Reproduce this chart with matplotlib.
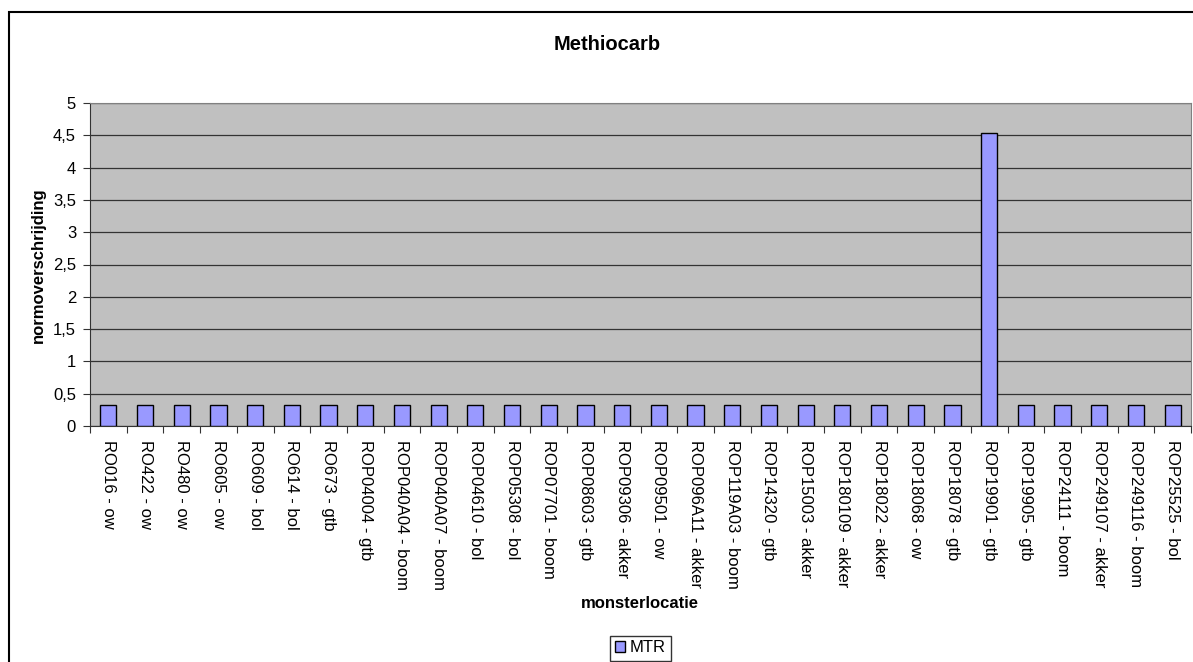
import matplotlib
matplotlib.use("Agg")
import matplotlib.pyplot as plt
from matplotlib.patches import Rectangle
import numpy as np

plt.rcParams['font.family'] = ['Liberation Sans', 'DejaVu Sans']

locations = [
    "RO016 - ow", "RO422 - ow", "RO480 - ow", "RO605 - ow", "RO609 - bol",
    "RO614 - bol", "RO673 - gtb", "ROP04004 - gtb", "ROP040A04 - boom",
    "ROP040A07 - boom", "ROP04610 - bol", "ROP05308 - bol", "ROP07701 - boom",
    "ROP08603 - gtb", "ROP09306 - akker", "ROP09501 - ow", "ROP096A11 - akker",
    "ROP119A03 - boom", "ROP14320 - gtb", "ROP15003 - akker",
    "ROP180109 - akker", "ROP18022 - akker", "ROP18068 - ow", "ROP18078 - gtb",
    "ROP19901 - gtb", "ROP19905 - gtb", "ROP24111 - boom", "ROP249107 - akker",
    "ROP249116 - boom", "ROP25525 - bol",
]
mtr = [0.32] * 24 + [4.53] + [0.32] * 5
y_ticks = [0, 0.5, 1, 1.5, 2, 2.5, 3, 3.5, 4, 4.5, 5]
y_tick_labels = ["0", "0,5", "1", "1,5", "2", "2,5", "3", "3,5", "4", "4,5", "5"]

W, H = 1193, 662
fig = plt.figure(figsize=(W / 100, H / 100), dpi=100)

# chart frame
fig.patches.append(Rectangle((9 / W, -0.1), 1.2, 1 - 12 / H + 0.1,
                             transform=fig.transFigure, fill=False,
                             edgecolor='black', linewidth=1.5, zorder=0))

left, right, top, bottom = 90, 1191, 103, 426
ax = fig.add_axes([left / W, 1 - bottom / H, (right - left) / W, (bottom - top) / H])
ax.set_facecolor('#C0C0C0')

x = np.arange(len(locations))
ax.bar(x, mtr, width=0.44, color='#9999FF', edgecolor='black', linewidth=1,
       zorder=3, label='MTR')

ax.set_xlim(-0.5, len(locations) - 0.5)
ax.set_ylim(0, 5)
ax.set_yticks(y_ticks)
ax.set_yticklabels(y_tick_labels, fontsize=12)
ax.yaxis.grid(True, color='#333333', linewidth=0.9, zorder=1)
ax.set_axisbelow(True)

# category boundaries carry the ticks, labels sit at the centres
ax.set_xticks(np.arange(len(locations) + 1) - 0.5)
ax.set_xticklabels([])
ax.set_xticks(x, minor=True)
ax.set_xticklabels(locations, minor=True, rotation=270, fontsize=12,
                   va='top', ha='center')
ax.tick_params(axis='x', which='minor', length=0, pad=10)
ax.tick_params(axis='x', which='major', length=5, direction='out', color='#333333')
ax.tick_params(axis='y', length=5, direction='out', color='#333333', pad=5)

for side in ['top', 'right']:
    ax.spines[side].set_color('#808080')
for side in ['left', 'bottom']:
    ax.spines[side].set_color('#333333')

fig.text(607 / W, 1 - 44 / H, "Methiocarb", ha='center', va='center',
         fontsize=14.5, fontweight='bold')
fig.text(640 / W, 1 - 604 / H, "monsterlocatie", ha='center', va='center',
         fontsize=12, fontweight='bold')
fig.text(38 / W, 1 - 265 / H, "normoverschrijding", ha='center', va='center',
         rotation=90, fontsize=12, fontweight='bold')

leg = fig.legend(loc='center', bbox_to_anchor=(640 / W, 1 - 648 / H),
                 fontsize=12, frameon=True, fancybox=False, handlelength=0.6,
                 handleheight=0.6, handletextpad=0.3, borderpad=0.3,
                 borderaxespad=0)
leg.get_frame().set_edgecolor('black')
leg.get_frame().set_linewidth(1)

fig.savefig("out.png", dpi=100)
